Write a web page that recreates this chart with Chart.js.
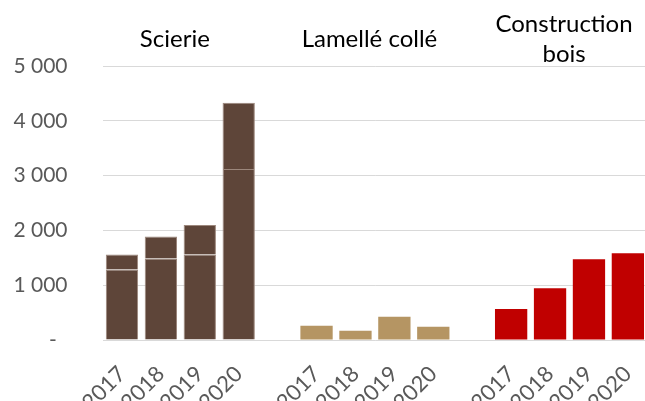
<!DOCTYPE html>
<html>
<head>
<meta charset="utf-8">
<script src="https://cdn.jsdelivr.net/npm/chart.js@4/dist/chart.umd.min.js"></script>
<style>
  html, body { margin: 0; padding: 0; background: #fff; overflow: hidden; }
  #wrap { position: relative; width: 660px; height: 401px; }
</style>
</head>
<body>
<div id="wrap"><canvas id="chart"></canvas></div>
<script>
const years = ["2017", "2018", "2019", "2020"];
const groups = ["Scierie", "Lamellé collé", ["Construction", "bois"]];
// Scierie bars are drawn in two stacked parts (thin line inside the bar)
const scierieBase = [1285, 1485, 1560, 3120];
const scierieTop = [275, 405, 540, 1210];
const lamelle = [260, 170, 424, 240];
const construction = [565, 945, 1475, 1585];
const yTicks = [0, 1000, 2000, 3000, 4000, 5000];

// 4 bars per group, one empty slot between groups
const slotsPerGroup = years.length + 1;
const labels = [];
const groupLabels = [];
groups.forEach((g, i) => {
    if (i > 0) { labels.push(""); groupLabels.push(""); }
    labels.push(...years);
    // group name sits on the 2nd bar slot, shifted half a slot right
    groupLabels.push("", g, "", "");
});

function place(values, groupIndex) {
    const out = new Array(labels.length).fill(null);
    values.forEach((v, j) => { out[groupIndex * slotsPerGroup + j] = v; });
    return out;
}

function fmt(v) {
    if (v === 0) return "-  ";
    return String(v).replace(/\B(?=(\d{3})+(?!\d))/g, " ");
}

const tickFont = { family: "Lato", size: 21 };

new Chart(document.getElementById("chart"), {
    type: "bar",
    data: {
        labels: labels,
        datasets: [
            { label: "Scierie", data: place(scierieBase, 0), backgroundColor: "#5E4539",
              borderColor: "#9c877c", borderWidth: 1 },
            { label: "Scierie ", data: place(scierieTop, 0), backgroundColor: "#5E4539",
              borderColor: "#9c877c", borderWidth: 1 },
            { label: "Lamellé collé", data: place(lamelle, 1), backgroundColor: "#B59563" },
            { label: "Construction bois", data: place(construction, 2), backgroundColor: "#C00000" },
        ],
    },
    options: {
        animation: false,
        responsive: true,
        maintainAspectRatio: false,
        layout: { padding: { left: 0, right: 6, top: 0, bottom: 0 } },
        datasets: { bar: { barPercentage: 0.83, categoryPercentage: 1 } },
        plugins: { legend: { display: false }, tooltip: { enabled: false } },
        scales: {
            x: {
                stacked: true,
                grid: { display: false },
                border: { display: false },
                ticks: { color: "#595959", font: { family: "Lato", size: 22 }, minRotation: 45, maxRotation: 45,
                         padding: 13, autoSkip: false },
                afterFit: s => { s.height = 61; },
            },
            x2: {
                axis: "x",
                type: "category",
                labels: groupLabels,
                position: "top",
                grid: { display: false },
                border: { display: false },
                ticks: { color: "#000", font: { family: "Lato", size: 24, lineHeight: 1.25 }, crossAlign: "center",
                         padding: 4, labelOffset: 14, autoSkip: false, maxRotation: 0 },
                afterFit: s => { s.height = 66; },
            },
            y: {
                stacked: true,
                min: 0,
                max: 5000,
                afterBuildTicks: s => { s.ticks = yTicks.map(v => ({ value: v })); },
                grid: { color: "#d9d9d9", drawTicks: false },
                border: { display: false },
                ticks: { color: "#595959", font: tickFont, padding: 35, callback: fmt },
                afterFit: s => { s.width = 102.5; },
            },
        },
    },
});
</script>
</body>
</html>
